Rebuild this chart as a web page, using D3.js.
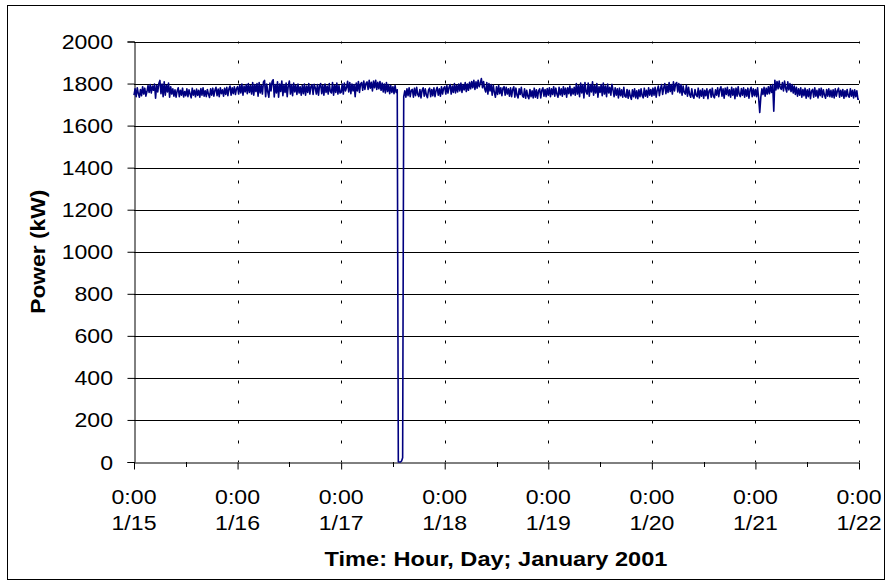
<!DOCTYPE html>
<html>
<head>
<meta charset="utf-8">
<script src="https://cdn.jsdelivr.net/npm/d3@7"></script>
<style>
  html, body { margin: 0; padding: 0; background: #fff; }
  svg { display: block; font-family: "Liberation Sans", Arial, sans-serif; }
</style>
</head>
<body>
<svg id="chart" width="891" height="584"></svg>
<script>
// ---- Data: power (kW) every 15 minutes, 96 readings per day (rows of 3 hours), from 1/15 0:00 ----
const day15 = [
  1745,1775,1738,1780,1752,1735,1772,1742,1785,1750,1778,1740,
  1762,1790,1758,1795,1755,1788,1768,1798,1730,1792,1760,1800,
  1815,1752,1798,1738,1808,1745,1792,1760,1802,1735,1785,1750,
  1775,1740,1770,1735,1765,1780,1738,1768,1745,1778,1736,1762,
  1742,1775,1738,1770,1750,1732,1778,1745,1768,1737,1774,1744,
  1768,1735,1776,1745,1780,1740,1766,1738,1772,1750,1734,1775,
  1745,1778,1740,1768,1782,1742,1774,1738,1780,1752,1770,1740,
  1778,1748,1782,1742,1775,1788,1745,1780,1752,1785,1748,1776];
const day16 = [
  1785,1750,1792,1755,1798,1745,1788,1760,1795,1752,1800,1758,
  1790,1750,1805,1745,1795,1762,1800,1740,1805,1755,1792,1750,
  1808,1815,1738,1798,1760,1735,1802,1765,1810,1818,1736,1795,
  1755,1808,1735,1798,1762,1812,1742,1795,1758,1802,1738,1790,
  1812,1750,1795,1742,1802,1760,1792,1748,1798,1755,1785,1745,
  1792,1752,1798,1745,1788,1758,1800,1750,1786,1795,1748,1796,
  1780,1750,1795,1745,1790,1800,1752,1792,1745,1798,1758,1788,
  1750,1800,1762,1755,1805,1745,1792,1758,1802,1750,1790,1755];
const day17 = [
  1758,1798,1750,1802,1765,1780,1811,1760,1805,1752,1798,1765,
  1795,1737,1802,1765,1810,1758,1798,1805,1768,1812,1772,1800,
  1808,1772,1815,1778,1806,1765,1812,1780,1816,1772,1806,1775,
  1810,1768,1802,1760,1798,1755,1805,1762,1795,1752,1790,1758,
  1785,1752,1790,1758,1770,0,0,0,5,20,1738,1765,
  1735,1775,1742,1780,1738,1768,1772,1735,1778,1742,1782,1748,
  1738,1772,1732,1768,1780,1740,1775,1745,1733,1770,1778,1738,
  1772,1742,1780,1738,1768,1782,1745,1775,1740,1785,1750,1778];
const day18 = [
  1785,1750,1790,1755,1782,1795,1750,1788,1758,1800,1755,1792,
  1760,1798,1765,1802,1758,1795,1770,1805,1762,1798,1768,1806,
  1775,1810,1780,1815,1772,1808,1778,1816,1785,1802,1824,1780,
  1810,1775,1760,1805,1750,1800,1765,1795,1745,1792,1758,1735,
  1785,1748,1790,1752,1780,1742,1778,1785,1745,1782,1750,1775,
  1740,1780,1738,1772,1785,1735,1778,1745,1732,1775,1748,1782,
  1742,1735,1775,1730,1768,1740,1728,1772,1738,1765,1732,1778,
  1735,1770,1730,1765,1775,1732,1768,1780,1740,1772,1738,1776];
const day19 = [
  1745,1780,1738,1775,1748,1785,1740,1778,1750,1735,1782,1746,
  1775,1740,1785,1748,1778,1735,1780,1752,1788,1742,1776,1750,
  1782,1745,1800,1750,1790,1738,1802,1755,1795,1732,1805,1760,
  1750,1802,1740,1795,1760,1808,1745,1790,1755,1800,1735,1785,
  1758,1795,1742,1802,1750,1788,1738,1798,1755,1782,1745,1796,
  1770,1738,1780,1745,1775,1732,1778,1742,1770,1735,1782,1740,
  1735,1772,1730,1768,1740,1725,1770,1738,1775,1732,1765,1728,
  1770,1738,1775,1742,1732,1778,1740,1768,1735,1780,1745,1772];
const day20 = [
  1740,1778,1745,1782,1735,1770,1788,1742,1775,1795,1748,1780,
  1800,1752,1790,1758,1805,1762,1795,1750,1808,1765,1798,1805,
  1760,1800,1755,1795,1745,1788,1758,1750,1792,1740,1782,1748,
  1735,1775,1740,1730,1772,1745,1738,1778,1732,1768,1740,1775,
  1730,1768,1742,1775,1728,1765,1772,1735,1778,1740,1732,1770,
  1745,1780,1738,1772,1785,1740,1775,1730,1778,1748,1782,1742,
  1770,1735,1782,1745,1775,1728,1778,1740,1785,1748,1738,1776,
  1745,1780,1735,1772,1740,1778,1730,1770,1782,1738,1775,1742];
const day21 = [
  1772,1738,1780,1730,1662,1735,1775,1748,1782,1740,1778,1750,
  1785,1752,1790,1758,1795,1668,1816,1770,1810,1775,1812,1780,
  1772,1805,1765,1812,1778,1760,1808,1770,1800,1762,1795,1755,
  1788,1748,1782,1740,1775,1745,1780,1735,1772,1742,1778,1730,
  1770,1738,1775,1728,1765,1772,1735,1780,1740,1768,1732,1775,
  1742,1778,1735,1770,1745,1730,1772,1740,1775,1738,1768,1735,
  1770,1732,1775,1740,1765,1778,1735,1768,1740,1772,1730,1766,
  1738,1772,1742,1735,1775,1740,1768,1732,1770,1738,1765,1725];
const finalReading = [1725]; // 1/22 0:00

const yTicks = [0,200,400,600,800,1000,1200,1400,1600,1800,2000];
const xTickTimes = ["0:00","0:00","0:00","0:00","0:00","0:00","0:00","0:00"];
const xTickDays = ["1/15","1/16","1/17","1/18","1/19","1/20","1/21","1/22"];
const xTitle = "Time: Hour, Day; January 2001";
const yTitle = "Power (kW)";

(function () {
const start = Date.UTC(2001, 0, 15);
const stepMs = 15 * 60 * 1000;
const values = [].concat(day15, day16, day17, day18, day19, day20, day21, finalReading);
const series = values.map((v, i) => ({ t: new Date(start + i * stepMs), v }));

const svg = d3.select("#chart");
const pL = 134, pR = 859, pT = 41.5, pB = 462;
const TXT_SX = 1.1; // horizontal stretch of the reference lettering

svg.append("rect").attr("x", 7.5).attr("y", 5.5).attr("width", 877).attr("height", 574)
  .attr("fill", "#fff").attr("stroke", "#000").attr("stroke-width", 1);

const x = d3.scaleUtc().domain([new Date(start), new Date(Date.UTC(2001, 0, 22))]).range([pL, pR]);
const y = d3.scaleLinear().domain([0, 2000]).range([pB, pT]);

const dayTicks = d3.utcDay.range(new Date(start), new Date(Date.UTC(2001, 0, 22, 1)));
const noonTicks = d3.utcDay.range(new Date(start), new Date(Date.UTC(2001, 0, 22))).map(d => d3.utcHour.offset(d, 12));

// horizontal gridlines
svg.append("g").selectAll("line").data(yTicks.filter(d => d > 0)).join("line")
  .attr("x1", pL).attr("x2", pR)
  .attr("y1", d => Math.round(y(d)) + 0.5).attr("y2", d => Math.round(y(d)) + 0.5)
  .attr("stroke", "#000").attr("stroke-width", 1);

// vertical dashed gridlines
svg.append("g").selectAll("line").data(dayTicks.slice(1)).join("line")
  .attr("x1", d => Math.round(x(d)) + 0.5).attr("x2", d => Math.round(x(d)) + 0.5)
  .attr("y1", pT).attr("y2", pB)
  .attr("stroke", "#000").attr("stroke-width", 1)
  .attr("stroke-dasharray", "3,17").attr("stroke-dashoffset", 1);

// y axis
const yAxis = d3.axisLeft(y).tickValues(yTicks).tickSize(7).tickFormat("");
const gy = svg.append("g").attr("transform", `translate(${pL + 0.5},0)`).call(yAxis);
gy.select(".domain").attr("stroke", "#000");
svg.append("g").attr("font-size", 21).attr("fill", "#000").attr("text-anchor", "end")
  .selectAll("text").data(yTicks).join("text")
  .attr("transform", d => `translate(113,${y(d) + 7.5}) scale(${TXT_SX},1)`)
  .text(d => d3.format("d")(d));

// x axis
const xAxis = d3.axisBottom(x).tickValues(dayTicks).tickSize(7).tickSizeOuter(0).tickFormat("");
const gx = svg.append("g").attr("transform", `translate(0,${Math.round(pB) + 0.5})`).call(xAxis);
gx.select(".domain").attr("stroke", "#000");
svg.append("g").selectAll("line").data(noonTicks).join("line")
  .attr("x1", d => Math.round(x(d)) + 0.5).attr("x2", d => Math.round(x(d)) + 0.5)
  .attr("y1", Math.round(pB)).attr("y2", Math.round(pB) + 5)
  .attr("stroke", "#000");

const lab = svg.append("g").attr("font-size", 21).attr("fill", "#000").attr("text-anchor", "middle");
dayTicks.forEach((d, i) => {
  lab.append("text").attr("transform", `translate(${x(d)},504) scale(${TXT_SX},1)`).text(xTickTimes[i]);
  lab.append("text").attr("transform", `translate(${x(d)},530) scale(${TXT_SX},1)`).text(xTickDays[i]);
});

// data line
const line = d3.line().x(d => x(d.t)).y(d => y(d.v));
svg.append("path").datum(series).attr("d", line)
  .attr("fill", "none").attr("stroke", "#000080").attr("stroke-width", 1.6).attr("stroke-linejoin", "round");

// titles
const xt = svg.append("text").attr("text-anchor", "middle")
  .attr("font-size", 20).attr("font-weight", "bold").text(xTitle);
const xs = 343 / xt.node().getComputedTextLength();
xt.attr("transform", `translate(${(pL + pR) / 2 - 0.5},566) scale(${xs},1)`);

const yt = svg.append("text").attr("text-anchor", "middle")
  .attr("font-size", 20).attr("font-weight", "bold").text(yTitle);
const ys = 124 / yt.node().getComputedTextLength();
yt.attr("transform", `translate(45,${(pT + pB) / 2}) rotate(-90) scale(${ys},1)`);
})();
</script>
</body>
</html>
